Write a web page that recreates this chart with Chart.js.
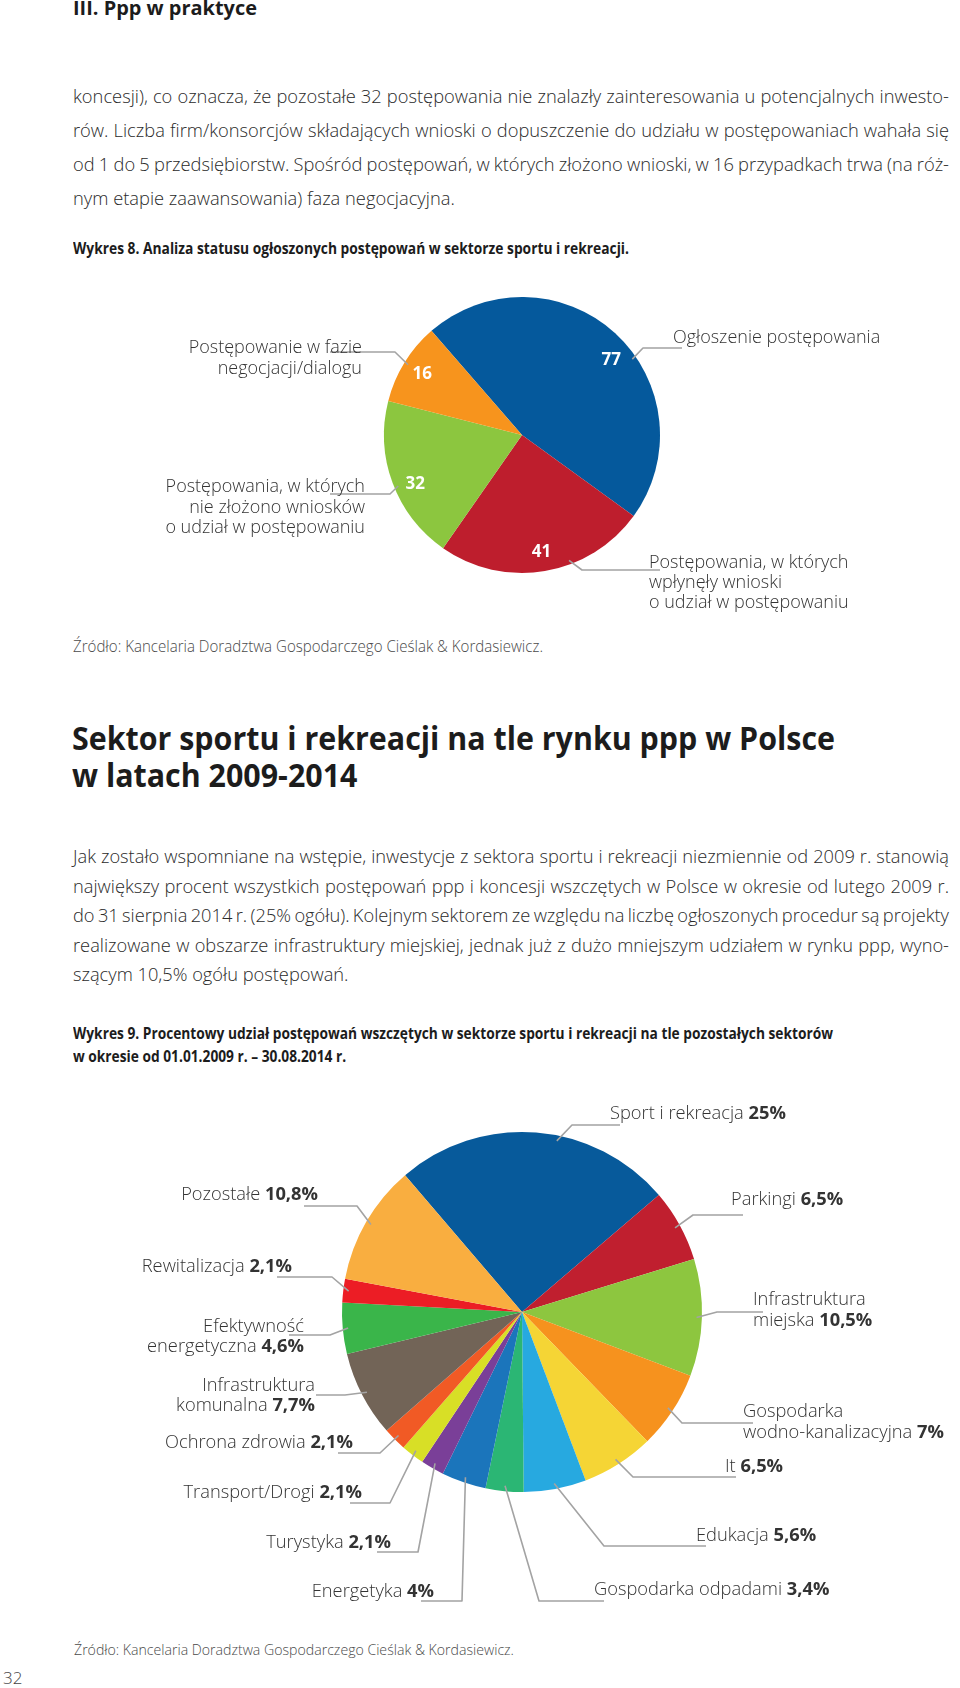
<!DOCTYPE html>
<html lang="pl">
<head>
<meta charset="utf-8">
<script src="https://cdn.jsdelivr.net/npm/chart.js@4.4.1/dist/chart.umd.min.js"></script>
<style>
html,body{margin:0;padding:0;background:#fff;}
#page{position:relative;width:960px;height:1688px;overflow:hidden;font-family:"Open Sans","DejaVu Sans",sans-serif;background:#fff;}
.t{position:absolute;white-space:nowrap;line-height:1;transform-origin:0 50%;}
canvas{position:absolute;left:0;}
</style>
</head>
<body>
<div id="page"></div>
<script>
// ---------- DATA ----------
const pie1Categories = [
  ['Ogłoszenie postępowania'],
  ['Postępowania, w których', 'wpłynęły wnioski', 'o udział w postępowaniu'],
  ['Postępowania, w których', 'nie złożono wniosków', 'o udział w postępowaniu'],
  ['Postępowanie w fazie', 'negocjacji/dialogu']
];
const pie1Values = [77, 41, 32, 16];
const pie1Colors = ['#05599c', '#be1e2d', '#8cc63f', '#f7941d'];

const pie2Categories = [
  ['Sport i rekreacja'],
  ['Parkingi'],
  ['Infrastruktura', 'miejska'],
  ['Gospodarka', 'wodno-kanalizacyjna'],
  ['It'],
  ['Edukacja'],
  ['Gospodarka odpadami'],
  ['Energetyka'],
  ['Turystyka'],
  ['Transport/Drogi'],
  ['Ochrona zdrowia'],
  ['Infrastruktura', 'komunalna'],
  ['Efektywność', 'energetyczna'],
  ['Rewitalizacja'],
  ['Pozostałe']
];
const pie2Values = [25, 6.5, 10.5, 7, 6.5, 5.6, 3.4, 4, 2.1, 2.1, 2.1, 7.7, 4.6, 2.1, 10.8];
const pie2Colors = ['#075a9b', '#c01f2f', '#8dc63f', '#f6921e', '#f5d535', '#27a9e0', '#2bb674',
  '#1b75bb', '#7a3f98', '#d8df26', '#f15a25', '#726457', '#3ab54a', '#ec1d25', '#f9ae40'];

// ---------- LAYOUT (label placement, page coordinates) ----------
const pie1Layout = [
  {align:'left',  x:673, y:[337],          elbow:[643,348], endX:682, leadShift:13,  valShift:7},
  {align:'left',  x:649, y:[562,582,602],  elbow:[582,570], endX:660, leadShift:-11, valShift:0},
  {align:'right', x:365, y:[486,507,527],  elbow:[390,494], endX:330, leadShift:-2,  valShift:-4},
  {align:'right', x:362, y:[347,368],      elbow:[395,352], endX:330, leadShift:0,   valShift:0}
];
const pie2Layout = [
  {align:'left',  x:610, y:[1113],        elbow:[572,1125], endX:620, leadShift:7},
  {align:'left',  x:731, y:[1199],        elbow:[693,1215], endX:743},
  {align:'left',  x:753, y:[1299,1320],   elbow:[717,1312], endX:763},
  {align:'left',  x:743, y:[1411,1432],   elbow:[682,1423], endX:753},
  {align:'left',  x:725, y:[1466],        elbow:[633,1477], endX:736},
  {align:'left',  x:696, y:[1535],        elbow:[604,1546], endX:706},
  {align:'left',  x:594, y:[1589],        elbow:[539,1601], endX:604},
  {align:'right', x:434, y:[1591],        elbow:[462,1601], endX:421},
  {align:'right', x:391, y:[1542],        elbow:[418,1552], endX:377},
  {align:'right', x:362, y:[1492],        elbow:[390,1503], endX:350},
  {align:'right', x:353, y:[1442],        elbow:[380,1453], endX:338},
  {align:'right', x:315, y:[1385,1405],   elbow:[345,1395], endX:316},
  {align:'right', x:304, y:[1326,1346],   elbow:[330,1335], endX:289},
  {align:'right', x:292, y:[1266],        elbow:[332,1277], endX:277},
  {align:'right', x:318, y:[1194],        elbow:[357,1206], endX:304}
];

const FONT = '"Open Sans", "DejaVu Sans", sans-serif';
const page = document.getElementById('page');

function mk(text, x, cy, fs, weight, color) {
  const d = document.createElement('div');
  d.className = 't';
  d.textContent = text;
  d.style.fontSize = fs + 'px';
  d.style.fontWeight = weight;
  d.style.color = color;
  d.style.left = x + 'px';
  d.style.top = (cy - 0.578 * fs) + 'px';
  page.appendChild(d);
  return d;
}
function fitGroup(els, W) {
  const w = els[0].getBoundingClientRect().width;
  const s = W / w;
  els.forEach(e => e.style.transform = `scaleX(${s})`);
}
function para(lines, x, ys, fs, weight, color, W) {
  const els = lines.map((t, i) => mk(t, x, ys[i], fs, weight, color));
  const ws = els.map(e => e.getBoundingClientRect().width);
  const full = els.length - 1;
  let s = 0;
  for (let i = 0; i < full; i++) s += W / ws[i];
  s /= full;
  els.forEach((e, i) => {
    if (i < full) {
      const n = (lines[i].match(/ /g) || []).length;
      e.style.wordSpacing = ((W / s - ws[i]) / n) + 'px';
    }
    e.style.transform = `scaleX(${s})`;
  });
}

function fmtPct(v) { return String(v).replace('.', ',') + '%'; }

function labelPlugin(cats, values, layout, top, opt) {
  return {
    id: 'sliceLabels',
    afterDatasetsDraw(chart) {
      const ctx = chart.ctx;
      const meta = chart.getDatasetMeta(0);
      const fs = opt.fs;
      const lightFont = `300 ${fs}px ${FONT}`;
      const boldFont = `700 ${fs}px ${FONT}`;
      ctx.save();
      meta.data.forEach((arc, i) => {
        const p = arc.getProps(['x', 'y', 'startAngle', 'endAngle', 'outerRadius'], true);
        const L = layout[i];
        const mid = (p.startAngle + p.endAngle) / 2;
        const a = mid + (L.leadShift || 0) * Math.PI / 180;
        const sx = p.x + Math.cos(a) * p.outerRadius * opt.leadR;
        const sy = p.y + Math.sin(a) * p.outerRadius * opt.leadR;
        // leader line
        ctx.strokeStyle = '#a3a3a3';
        ctx.lineWidth = 1.6;
        ctx.lineJoin = 'round';
        ctx.beginPath();
        ctx.moveTo(sx, sy);
        ctx.lineTo(L.elbow[0], L.elbow[1] - top);
        ctx.lineTo(L.endX, L.elbow[1] - top);
        ctx.stroke();
        // category text
        const lines = cats[i];
        ctx.textAlign = 'left';
        ctx.textBaseline = 'alphabetic';
        ctx.fillStyle = '#333333';
        lines.forEach((t, j) => {
          const y = L.y[j] - top + 0.31 * fs;
          const withVal = opt.pctInLabel && j === lines.length - 1;
          const light = withVal ? t + ' ' : t;
          ctx.font = lightFont;
          const w1 = ctx.measureText(light).width;
          let w2 = 0, vs = '';
          if (withVal) { vs = fmtPct(values[i]); ctx.font = boldFont; w2 = ctx.measureText(vs).width; }
          const x0 = L.align === 'right' ? L.x - w1 - w2 : L.x;
          ctx.font = lightFont;
          ctx.fillText(light, x0, y);
          if (withVal) { ctx.font = boldFont; ctx.fillText(vs, x0 + w1, y); }
        });
        // value inside slice
        if (opt.valInside) {
          const b = mid + (L.valShift || 0) * Math.PI / 180;
          const vx = p.x + Math.cos(b) * p.outerRadius * 0.85;
          const vy = p.y + Math.sin(b) * p.outerRadius * 0.85;
          ctx.font = `700 17px ${FONT}`;
          ctx.fillStyle = '#ffffff';
          ctx.textAlign = 'center';
          ctx.textBaseline = 'middle';
          ctx.fillText(String(values[i]), vx, vy + 1);
          ctx.textAlign = 'left';
          ctx.textBaseline = 'alphabetic';
        }
      });
      ctx.restore();
    }
  };
}

function makePie(top, height, pad, cats, values, colors, rotation, layout, opt) {
  const c = document.createElement('canvas');
  c.width = 960; c.height = height;
  c.style.top = top + 'px';
  c.style.width = '960px'; c.style.height = height + 'px';
  page.appendChild(c);
  return new Chart(c, {
    type: 'pie',
    data: {
      labels: cats.map(l => l.join(' ')),
      datasets: [{ data: values, backgroundColor: colors, borderWidth: 0, hoverOffset: 0 }]
    },
    options: {
      responsive: false,
      animation: false,
      devicePixelRatio: 1,
      events: [],
      rotation: rotation,
      layout: { padding: pad },
      plugins: { legend: { display: false }, tooltip: { enabled: false } }
    },
    plugins: [labelPlugin(cats, values, layout, top, opt)]
  });
}

function build() {
  const dark = '#1c1c1c', body = '#2a2a2a', src = '#4a4a4a';
  // header
  fitGroup([mk('III. Ppp w praktyce', 73, 9, 19.5, 700, dark)], 184);
  // paragraph 1
  para([
    'koncesji), co oznacza, że pozostałe 32 postępowania nie znalazły zainteresowania u potencjalnych inwesto-',
    'rów. Liczba firm/konsorcjów składających wnioski o dopuszczenie do udziału w postępowaniach wahała się',
    'od 1 do 5 przedsiębiorstw. Spośród postępowań, w których złożono wnioski, w 16 przypadkach trwa (na róż-',
    'nym etapie zaawansowania) faza negocjacyjna.'
  ], 73, [98, 132, 166, 200], 19, 300, body, 876);
  // Wykres 8
  fitGroup([mk('Wykres 8. Analiza statusu ogłoszonych postępowań w sektorze sportu i rekreacji.', 73, 250, 16.5, 700, dark)], 556);
  // source 1
  fitGroup([mk('Źródło: Kancelaria Doradztwa Gospodarczego Cieślak & Kordasiewicz.', 73, 648, 15.5, 300, src)], 470);
  // heading
  fitGroup([
    mk('Sektor sportu i rekreacji na tle rynku ppp w Polsce', 72, 740, 31.5, 700, dark),
    mk('w latach 2009-2014', 72, 777, 31.5, 700, dark)
  ], 763);
  // paragraph 2
  para([
    'Jak zostało wspomniane na wstępie, inwestycje z sektora sportu i rekreacji niezmiennie od 2009 r. stanowią',
    'największy procent wszystkich postępowań ppp i koncesji wszczętych w Polsce w okresie od lutego 2009 r.',
    'do 31 sierpnia 2014 r. (25% ogółu). Kolejnym sektorem ze względu na liczbę ogłoszonych procedur są projekty',
    'realizowane w obszarze infrastruktury miejskiej, jednak już z dużo mniejszym udziałem w rynku ppp, wyno-',
    'szącym 10,5% ogółu postępowań.'
  ], 73, [858, 887.5, 917, 946.5, 976], 19, 300, body, 876);
  // Wykres 9
  fitGroup([
    mk('Wykres 9. Procentowy udział postępowań wszczętych w sektorze sportu i rekreacji na tle pozostałych sektorów', 73, 1035, 16.5, 700, dark),
    mk('w okresie od 01.01.2009 r. – 30.08.2014 r.', 73, 1058, 16.5, 700, dark)
  ], 760);
  // source 2
  fitGroup([mk('Źródło: Kancelaria Doradztwa Gospodarczego Cieślak & Kordasiewicz.', 74, 1651, 15, 300, src)], 440);
  // page number
  mk('32', 3, 1679, 17, 300, '#444');

  // charts
  makePie(280, 350, {left:384, right:300, top:17, bottom:57},
    pie1Categories, pie1Values, pie1Colors, -41, pie1Layout,
    {fs:18, leadR:0.97, pctInLabel:false, valInside:true});
  makePie(1090, 530, {left:342, right:258, top:42, bottom:128},
    pie2Categories, pie2Values, pie2Colors, -40.5, pie2Layout,
    {fs:18.3, leadR:0.97, pctInLabel:true, valInside:false});
}

const fontLoads = [
  document.fonts.load(`300 17px ${FONT}`),
  document.fonts.load(`400 17px ${FONT}`),
  document.fonts.load(`600 17px ${FONT}`),
  document.fonts.load(`700 17px ${FONT}`)
];
Promise.all(fontLoads).then(build, build);
</script>
</body>
</html>
